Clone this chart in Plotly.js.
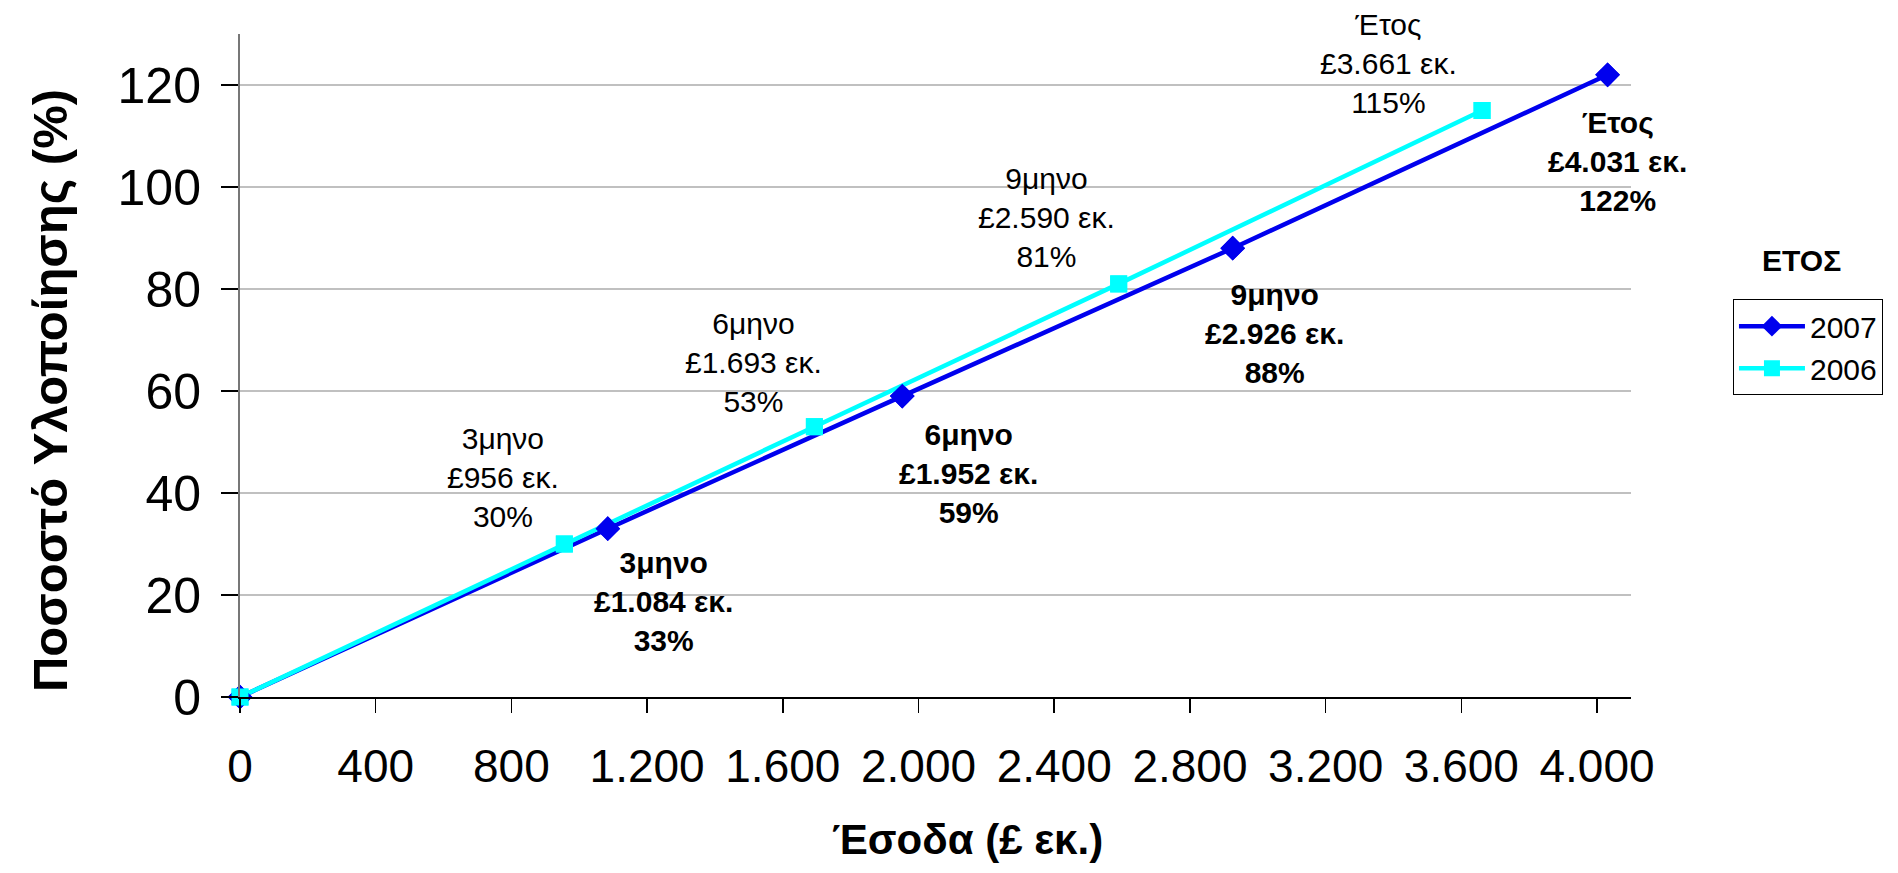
<!DOCTYPE html>
<html>
<head>
<meta charset="utf-8">
<script src="https://cdn.plot.ly/plotly-3.0.1.min.js"></script>
<style>html,body{margin:0;padding:0;background:#fff;}#chart{width:1898px;height:873px;}</style>
</head>
<body>
<div id="chart"></div>
<script>
// Data
const seriesNames = ['2007', '2006'];
const revenue2007 = [0, 1084, 1952, 2926, 4031];
const pct2007 = [0, 33, 59, 88, 122];
const revenue2006 = [0, 956, 1693, 2590, 3661];
const pct2006 = [0, 30, 53, 81, 115];
const periods = ['', '3μηνο', '6μηνο', '9μηνο', 'Έτος'];
const revLabels2007 = ['', '£1.084 εκ.', '£1.952 εκ.', '£2.926 εκ.', '£4.031 εκ.'];
const revLabels2006 = ['', '£956 εκ.', '£1.693 εκ.', '£2.590 εκ.', '£3.661 εκ.'];
const xTickVals = [0, 400, 800, 1200, 1600, 2000, 2400, 2800, 3200, 3600, 4000];
const xTickText = ['0', '400', '800', '1.200', '1.600', '2.000', '2.400', '2.800', '3.200', '3.600', '4.000'];
const yTickVals = [0, 20, 40, 60, 80, 100, 120];

// label offsets (pixels) relative to points
const shift2007 = [null, [56, -73], [66, -77], [42, -85], [10, -87]];
const shift2006 = [null, [-61, 67], [-61, 64], [-72, 66], [-94, 47]];

const FONT = 'Arial, Liberation Sans, sans-serif';
const BLUE = '#0000ee', CYAN = '#00ffff';

const traces = [
  {x: revenue2007, y: pct2007, name: seriesNames[0], type: 'scatter', mode: 'lines+markers',
   line: {color: BLUE, width: 4.5}, marker: {symbol: 'diamond', size: 19, color: BLUE}, cliponaxis: false},
  {x: revenue2006, y: pct2006, name: seriesNames[1], type: 'scatter', mode: 'lines+markers',
   line: {color: CYAN, width: 4.5}, marker: {symbol: 'square', size: 17, color: CYAN}, cliponaxis: false},
  // markers drawn above both lines
  {x: revenue2007, y: pct2007, type: 'scatter', mode: 'markers', showlegend: false,
   marker: {symbol: 'diamond', size: 19, color: BLUE}, cliponaxis: false},
  {x: revenue2006, y: pct2006, type: 'scatter', mode: 'markers', showlegend: false,
   marker: {symbol: 'square', size: 17, color: CYAN}, cliponaxis: false}
];

const annotations = [];
for (let i = 1; i < periods.length; i++) {
  annotations.push({x: revenue2006[i], y: pct2006[i], xref: 'x', yref: 'y', showarrow: false,
    xanchor: 'center', yanchor: 'middle',
    text: periods[i] + '<br>' + revLabels2006[i] + '<br>' + pct2006[i] + '%',
    xshift: shift2006[i][0], yshift: shift2006[i][1], align: 'center',
    font: {family: FONT, size: 30, color: '#000'}});
  annotations.push({x: revenue2007[i], y: pct2007[i], xref: 'x', yref: 'y', showarrow: false,
    xanchor: 'center', yanchor: 'middle',
    text: '<b>' + periods[i] + '<br>' + revLabels2007[i] + '<br>' + pct2007[i] + '%</b>',
    xshift: shift2007[i][0], yshift: shift2007[i][1], align: 'center',
    font: {family: FONT, size: 30, color: '#000'}});
}
annotations.push({xref: 'paper', yref: 'paper', x: 1.1229, y: 0.659, xanchor: 'center', yanchor: 'middle',
  showarrow: false, text: '<b>ΕΤΟΣ</b>', font: {family: FONT, size: 30, color: '#000'}});
annotations.push({xref: 'paper', yref: 'paper', x: 0.5227, y: -0.2142, xanchor: 'center', yanchor: 'middle',
  showarrow: false, text: '<b>Έσοδα (£ εκ.)</b>', font: {family: FONT, size: 42, color: '#000'}});
annotations.push({xref: 'paper', yref: 'paper', x: -0.1366, y: 0.463, xanchor: 'center', yanchor: 'middle',
  showarrow: false, textangle: -90,
  text: '<b>Ποσοστό Υλοποίησης (%)</b>', font: {family: FONT, size: 49, color: '#000'}});

const layout = {
  width: 1898, height: 873,
  margin: {l: 240, r: 267, t: 34, b: 176},
  paper_bgcolor: '#fff', plot_bgcolor: '#fff',
  showlegend: true,
  legend: {x: 1.0733, y: 0.6, xanchor: 'left', yanchor: 'top', bordercolor: '#000', borderwidth: 1,
    itemwidth: 66, bgcolor: '#fff', font: {family: FONT, size: 30, color: '#000'}},
  xaxis: {range: [0, 4100], tickvals: xTickVals, ticktext: xTickText, ticks: 'outside', ticklen: 14,
    tickcolor: '#000', tickwidth: 1.5, showline: true, linecolor: '#000', linewidth: 2, showgrid: false,
    zeroline: false, ticklabelstandoff: 14,
    tickfont: {family: FONT, size: 46, color: '#000'}},
  yaxis: {range: [0, 130], tickvals: yTickVals, ticks: 'outside', ticklen: 17, tickcolor: '#000', tickwidth: 1.5,
    showline: true, linecolor: '#777', linewidth: 2, showgrid: true, gridcolor: '#c0c0c0', gridwidth: 2,
    zeroline: false, ticklabelstandoff: 10,
    tickfont: {family: FONT, size: 50, color: '#000'}},
  annotations: annotations
};

Plotly.newPlot('chart', traces, layout, {displayModeBar: false, staticPlot: true});
</script>
</body>
</html>
